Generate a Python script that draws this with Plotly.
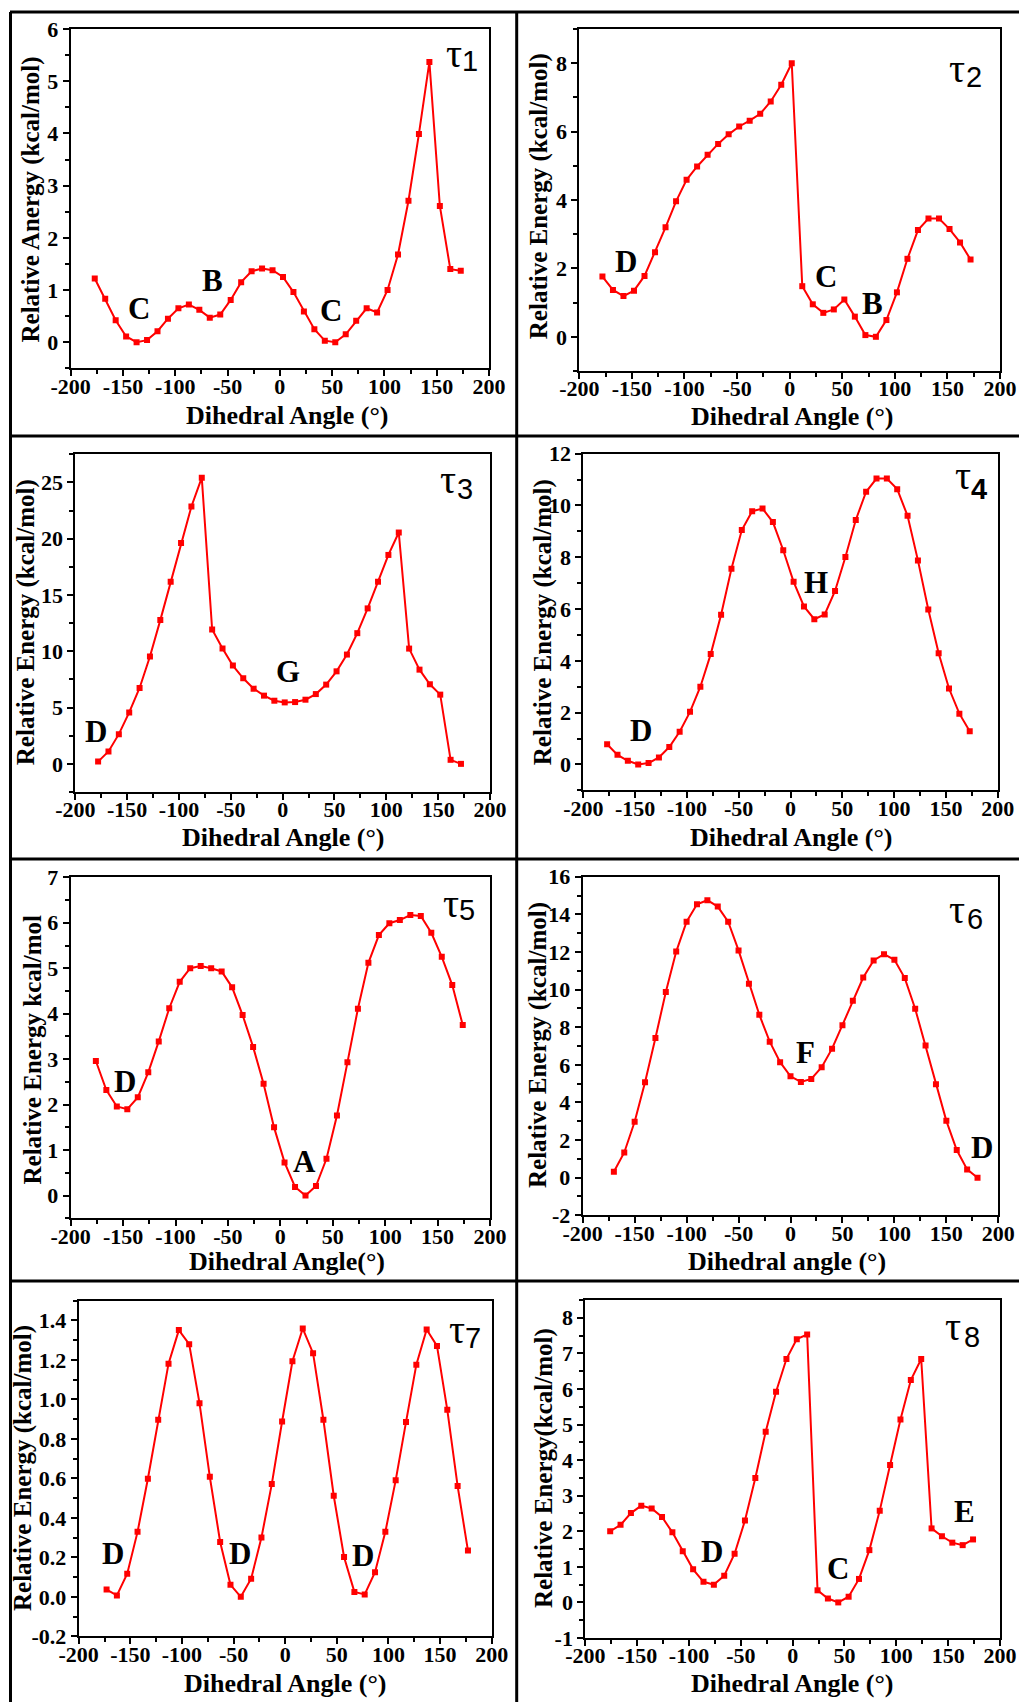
import plotly.graph_objects as go

W, H = 1019, 1702

# ---------------- data ----------------
x_t1 = [-177, -167, -157, -147, -137, -127, -117, -107, -97, -87, -77, -67, -57, -47, -37, -27, -17, -7,
        3, 13, 23, 33, 43, 53, 63, 73, 83, 93, 103, 113, 123, 133, 143, 153, 163, 173]
y_t1 = [1.22, 0.83, 0.42, 0.11, 0.0, 0.04, 0.21, 0.45, 0.65, 0.72, 0.62, 0.47, 0.53, 0.81, 1.15, 1.36, 1.41, 1.38,
        1.25, 0.96, 0.59, 0.25, 0.03, 0.0, 0.15, 0.41, 0.65, 0.57, 1.0, 1.68, 2.71, 3.99, 5.37, 2.61, 1.40, 1.37]

x_t2 = [-178, -168, -158, -148, -138, -128, -118, -108, -98, -88, -78, -68, -58, -48, -38, -28, -18, -8,
        2, 12, 22, 32, 42, 52, 62, 72, 82, 92, 102, 112, 122, 132, 142, 152, 162, 172]
y_t2 = [1.76, 1.37, 1.19, 1.35, 1.78, 2.47, 3.20, 3.96, 4.59, 4.98, 5.32, 5.64, 5.92, 6.15, 6.32, 6.52, 6.88, 7.37,
        8.0, 1.48, 0.95, 0.70, 0.80, 1.09, 0.59, 0.05, 0.0, 0.49, 1.30, 2.28, 3.12, 3.46, 3.46, 3.15, 2.76, 2.26]

x_t3 = [-178, -168, -158, -148, -138, -128, -118, -108, -98, -88, -78, -68, -58, -48, -38, -28, -18, -8,
        2, 12, 22, 32, 42, 52, 62, 72, 82, 92, 102, 112, 122, 132, 142, 152, 162, 172]
y_t3 = [0.2, 1.1, 2.64, 4.57, 6.74, 9.53, 12.77, 16.18, 19.63, 22.86, 25.42, 11.94, 10.24, 8.73, 7.6, 6.68, 6.06, 5.61,
        5.46, 5.49, 5.7, 6.2, 7.04, 8.22, 9.71, 11.61, 13.81, 16.18, 18.56, 20.55, 10.24, 8.37, 7.07, 6.15, 0.36, 0.0]

x_t4 = [-177, -167, -157, -147, -137, -127, -117, -107, -97, -87, -77, -67, -57, -47, -37, -27, -17, -7,
        3, 13, 23, 33, 43, 53, 63, 73, 83, 93, 103, 113, 123, 133, 143, 153, 163, 173]
y_t4 = [0.78, 0.37, 0.14, 0.0, 0.05, 0.27, 0.67, 1.26, 2.03, 3.0, 4.26, 5.78, 7.56, 9.05, 9.78, 9.88, 9.36, 8.27,
        7.05, 6.1, 5.61, 5.79, 6.70, 8.01, 9.44, 10.53, 11.04, 11.04, 10.63, 9.6, 7.88, 5.98, 4.29, 2.93, 1.96, 1.28]

x_t5 = [-176, -166, -156, -146, -136, -126, -116, -106, -96, -86, -76, -66, -56, -46, -36, -26, -16, -6,
        4, 14, 24, 34, 44, 54, 64, 74, 84, 94, 104, 114, 124, 134, 144, 154, 164, 174]
y_t5 = [2.96, 2.32, 1.96, 1.90, 2.16, 2.71, 3.39, 4.12, 4.70, 5.0, 5.05, 5.0, 4.93, 4.58, 3.97, 3.27, 2.46, 1.5,
        0.73, 0.19, 0.0, 0.21, 0.81, 1.76, 2.93, 4.11, 5.12, 5.73, 5.99, 6.06, 6.17, 6.15, 5.78, 5.25, 4.63, 3.75]

x_t6 = [-170, -160, -150, -140, -130, -120, -110, -100, -90, -80, -70, -60, -50, -40, -30, -20, -10, 0,
        10, 20, 30, 40, 50, 60, 70, 80, 90, 100, 110, 120, 130, 140, 150, 160, 170, 180]
y_t6 = [0.32, 1.34, 2.97, 5.07, 7.43, 9.87, 12.02, 13.61, 14.53, 14.75, 14.41, 13.61, 12.08, 10.31, 8.66, 7.23, 6.14, 5.39,
        5.09, 5.25, 5.87, 6.86, 8.1, 9.41, 10.64, 11.55, 11.88, 11.58, 10.61, 8.98, 7.02, 4.97, 3.02, 1.47, 0.44, 0.0]

x_t7 = [-173, -163, -153, -143, -133, -123, -113, -103, -93, -83, -73, -63, -53, -43, -33, -23, -13, -3,
        7, 17, 27, 37, 47, 57, 67, 77, 87, 97, 107, 117, 127, 137, 147, 157, 167, 177]
y_t7 = [0.037, 0.007, 0.117, 0.329, 0.598, 0.897, 1.181, 1.351, 1.28, 0.981, 0.608, 0.278, 0.061, 0.0, 0.092, 0.3, 0.571, 0.888,
        1.193, 1.359, 1.234, 0.897, 0.512, 0.202, 0.025, 0.012, 0.125, 0.329, 0.59, 0.885, 1.176, 1.354, 1.271, 0.947, 0.561, 0.234]

x_t8 = [-176, -166, -156, -146, -136, -126, -116, -106, -96, -86, -76, -66, -56, -46, -36, -26, -16, -6,
        4, 14, 24, 34, 44, 54, 64, 74, 84, 94, 104, 114, 124, 134, 144, 154, 164, 174]
y_t8 = [2.0, 2.18, 2.51, 2.72, 2.64, 2.4, 1.97, 1.44, 0.93, 0.58, 0.5, 0.75, 1.37, 2.3, 3.5, 4.8, 5.92, 6.84,
        7.4, 7.53, 0.34, 0.11, 0.0, 0.16, 0.66, 1.47, 2.58, 3.86, 5.14, 6.25, 6.84, 2.08, 1.86, 1.68, 1.61, 1.77]

panel_x = [x_t1, x_t2, x_t3, x_t4, x_t5, x_t6, x_t7, x_t8]
panel_y = [y_t1, y_t2, y_t3, y_t4, y_t5, y_t6, y_t7, y_t8]

# tick labels
x_tick_vals = [-200, -150, -100, -50, 0, 50, 100, 150, 200]
x_tick_text = ["-200", "-150", "-100", "-50", "0", "50", "100", "150", "200"]
y_tick_vals = [
    [0, 1, 2, 3, 4, 5, 6],
    [0, 2, 4, 6, 8],
    [0, 5, 10, 15, 20, 25],
    [0, 2, 4, 6, 8, 10, 12],
    [0, 1, 2, 3, 4, 5, 6, 7],
    [-2, 0, 2, 4, 6, 8, 10, 12, 14, 16],
    [-0.2, 0.0, 0.2, 0.4, 0.6, 0.8, 1.0, 1.2, 1.4],
    [-1, 0, 1, 2, 3, 4, 5, 6, 7, 8],
]
y_tick_text = [
    ["0", "1", "2", "3", "4", "5", "6"],
    ["0", "2", "4", "6", "8"],
    ["0", "5", "10", "15", "20", "25"],
    ["0", "2", "4", "6", "8", "10", "12"],
    ["0", "1", "2", "3", "4", "5", "6", "7"],
    ["-2", "0", "2", "4", "6", "8", "10", "12", "14", "16"],
    ["-0.2", "0.0", "0.2", "0.4", "0.6", "0.8", "1.0", "1.2", "1.4"],
    ["-1", "0", "1", "2", "3", "4", "5", "6", "7", "8"],
]

y_titles = ["Relative Anergy (kcal/mol)", "Relative Energy (kcal/mol)", "Relative Energy (kcal/mol)",
            "Relative Energy (kcal/mol)", "Relative Energy kcal/mol", "Relative Energy (kcal/mol)",
            "Relative Energy (kcal/mol)", "Relative Energy(kcal/mol)"]
x_titles = ["Dihedral Angle (°)", "Dihedral Angle (°)", "Dihedral Angle (°)", "Dihedral Angle (°)",
            "Dihedral Angle(°)", "Dihedral angle (°)", "Dihedral Angle (°)", "Dihedral Angle (°)"]
tau_digits = ["1", "2", "3", "4", "5", "6", "7", "8"]

# conformer labels: (panel, text, x, y)
state_labels = [
    (1, "C", -135, 0.64), (1, "B", -64, 1.18), (1, "C", 49, 0.61),
    (2, "D", -156, 2.2), (2, "C", 35, 1.76), (2, "B", 79, 0.98),
    (3, "D", -180, 2.9), (3, "G", 5.5, 8.2),
    (4, "D", -144, 1.32), (4, "H", 25, 7.03),
    (5, "D", -148, 2.51), (5, "A", 23.5, 0.75),
    (6, "F", 14, 6.67), (6, "D", 184, 1.63),
    (7, "D", -167, 0.22), (7, "D", -44, 0.22), (7, "D", 75, 0.21),
    (8, "D", -78, 1.42), (8, "C", 44, 0.96), (8, "E", 166, 2.55),
]

# ---------------- layout geometry (pixels) ----------------
areas = [
    (70.7, 489.0, 29.0, 368.3), (579.3, 1000.0, 29.0, 371.0),
    (75.3, 490.0, 454.3, 792.0), (583.3, 997.7, 453.7, 790.3),
    (70.7, 490.0, 877.3, 1218.3), (582.7, 998.3, 876.7, 1215.3),
    (78.7, 491.7, 1300.7, 1636.3), (585.3, 1000.0, 1300.0, 1638.0),
]
y_ranges = [(-0.5, 6), (-1, 9), (-2.5, 27.5), (-1, 12), (-0.5, 7), (-2, 16), (-0.2, 1.5), (-1, 8.5)]
y_minor = [0.5, 1, 2.5, 1, 0.5, 1, 0.1, 0.5]
x_title_pos = [(287, 415), (792.7, 416.7), (283.3, 837.7), (791.7, 837.7),
               (287.3, 1261.7), (786.7, 1261.7), (285, 1683), (792.7, 1683)]
y_title_pos = [(30.5, 200), (538.5, 196.7), (25.5, 622.7), (542.5, 622.7),
               (31.5, 1050), (538, 1045), (23, 1468), (544, 1468)]
tau_pos = [((166.5, 5.45), (181.8, 5.38)), ((158.8, 7.73), (175.6, 7.59)),
           ((159.8, 24.9), (175.9, 24.4)), ((166.9, 11.01), (182.3, 10.63)),
           ((162.5, 6.34), (178.4, 6.27)), ((159.9, 14.02), (177.9, 13.74)),
           ((166.1, 1.334), (181.6, 1.312)), ((155.0, 7.63), (172.7, 7.45))]

SERIF = "Liberation Serif, Times New Roman, serif"
SANS = "Liberation Sans, Arial, sans-serif"
RED = "#ff0000"


def bold(labels):
    return ["<b>" + s + "</b>" for s in labels]


fig = go.Figure()
layout = dict(template="none", width=W, height=H, margin=dict(l=0, r=0, t=0, b=0, pad=0, autoexpand=False),
              paper_bgcolor="white", plot_bgcolor="white", showlegend=False)
annotations = []
shapes = []

for i in range(8):
    n = i + 1
    sfx = "" if n == 1 else str(n)
    L, R, T, B = areas[i]
    fig.add_trace(go.Scatter(
        x=panel_x[i], y=panel_y[i], mode="lines+markers",
        line=dict(color=RED, width=2),
        marker=dict(symbol="square", size=6, color=RED, line=dict(width=0)),
        xaxis="x" + sfx, yaxis="y" + sfx, showlegend=False))

    common = dict(showline=True, linecolor="black", linewidth=2, mirror=True,
                  ticks="outside", ticklen=6, tickwidth=2, tickcolor="black",
                  showgrid=False, zeroline=False, automargin=False, tickmode="array",
                  tickfont=dict(family=SERIF, size=22, color="black", weight="bold"))
    minor_common = dict(ticks="outside", ticklen=4, tickwidth=2, tickcolor="black",
                        tickmode="linear", tick0=0, showgrid=False)
    layout["xaxis" + sfx] = dict(
        common, domain=[L / W, R / W], anchor="y" + sfx, range=[-200, 200],
        tickvals=x_tick_vals, ticktext=bold(x_tick_text), ticklabelstandoff=-9,
        minor=dict(minor_common, dtick=25))
    layout["yaxis" + sfx] = dict(
        common, domain=[1 - B / H, 1 - T / H], anchor="x" + sfx, range=list(y_ranges[i]),
        tickvals=y_tick_vals[i], ticktext=bold(y_tick_text[i]),
        minor=dict(minor_common, dtick=y_minor[i]))

    xt = x_title_pos[i]
    annotations.append(dict(text=x_titles[i], xref="paper", yref="paper",
                            x=xt[0] / W, y=1 - xt[1] / H, xanchor="center", yanchor="middle",
                            showarrow=False,
                            font=dict(family=SERIF, size=26, color="black", weight="bold")))
    yt = y_title_pos[i]
    annotations.append(dict(text=y_titles[i], xref="paper", yref="paper",
                            x=yt[0] / W, y=1 - yt[1] / H, xanchor="center", yanchor="middle",
                            textangle=-90, showarrow=False,
                            font=dict(family=SERIF, size=25, color="black", weight="bold")))
    (tx, ty), (dx, dy) = tau_pos[i]
    annotations.append(dict(text="τ", xref="x" + sfx, yref="y" + sfx, x=tx, y=ty,
                            xanchor="center", yanchor="middle", yshift=4, showarrow=False,
                            font=dict(family=SERIF, size=40, color="black")))
    annotations.append(dict(text=tau_digits[i], xref="x" + sfx, yref="y" + sfx, x=dx, y=dy,
                            xanchor="center", yanchor="middle", showarrow=False,
                            font=dict(family=SANS, size=29, color="black",
                                      weight="bold" if n == 4 else "normal")))

for (p, txt, lx, ly) in state_labels:
    sfx = "" if p == 1 else str(p)
    annotations.append(dict(text=txt, xref="x" + sfx, yref="y" + sfx, x=lx, y=ly,
                            xanchor="center", yanchor="middle", showarrow=False,
                            font=dict(family=SERIF, size=31, color="black", weight="bold")))


def hline(ypx, x0=10, x1=W):
    return dict(type="line", xref="paper", yref="paper", x0=x0 / W, x1=x1 / W,
                y0=1 - ypx / H, y1=1 - ypx / H, line=dict(color="black", width=3))


def vline(xpx, y0=12, y1=H):
    return dict(type="line", xref="paper", yref="paper", x0=xpx / W, x1=xpx / W,
                y0=1 - y0 / H, y1=1 - y1 / H, line=dict(color="black", width=3))


for ypx in [12, 436, 859, 1281]:
    shapes.append(hline(ypx))
for xpx in [10.5, 516.7]:
    shapes.append(vline(xpx))

layout["annotations"] = annotations
layout["shapes"] = shapes
fig.update_layout(**layout)
fig.write_html("out.html")
